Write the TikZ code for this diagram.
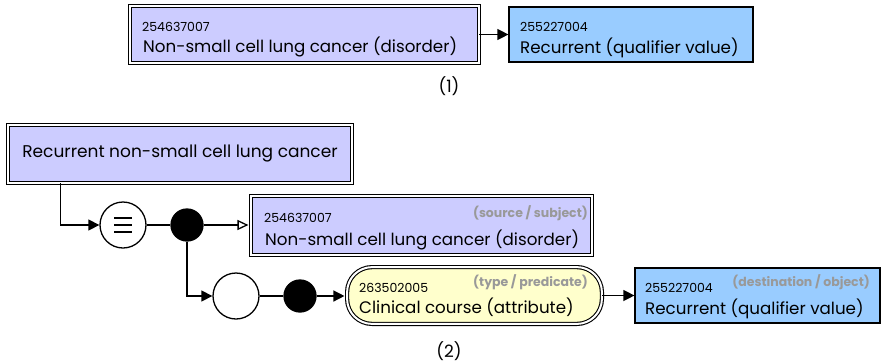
\documentclass[tikz,border=0pt]{standalone}
\usepackage{fontspec}
\setmainfont{Poppins}
\usetikzlibrary{arrows.meta}
\definecolor{concept}{HTML}{CCCCFF}
\definecolor{valuebox}{HTML}{99CCFF}
\definecolor{attrbox}{HTML}{FFFFCC}
\definecolor{rolegray}{HTML}{999999}
\tikzset{
  conn/.style={line width=1.3pt},
  solid arrow/.style={conn,-{Triangle[length=11pt,width=11pt]}},
  open arrow/.style={conn,-{Triangle[open,length=11pt,width=10pt,fill=white]}},
  dblbox/.style={draw, line width=1.1pt, double=white, double distance=2pt,
    rectangle, inner sep=0pt},
  plainbox/.style={draw, line width=1.2pt, rectangle, inner sep=0pt},
  conceptbox/.style={dblbox, fill=concept},
  valbox/.style={plainbox, fill=valuebox},
  attrnode/.style={dblbox, fill=attrbox, rounded corners=25pt},
  opencirc/.style={circle, draw, line width=1.3pt, fill=white, minimum size=46pt, inner sep=0pt},
  dotcirc/.style={circle, draw, line width=1.3pt, fill=black, minimum size=32pt, inner sep=0pt},
  code/.style={anchor=base west, inner sep=0pt, font=\fontsize{12.5}{14}\selectfont},
  term/.style={anchor=base west, inner sep=0pt, font=\fontsize{16.7}{20}\selectfont},
  role/.style={anchor=base east, inner sep=0pt, text=rolegray, font=\bfseries\fontsize{12.5}{14}\selectfont},
  caption/.style={inner sep=0pt, font=\fontsize{17}{20}\selectfont},
}
\begin{document}
\begin{tikzpicture}[x=1pt,y=-1pt]
\useasboundingbox (0,0) rectangle (883,362);

% ---------- (1) ----------
\node[conceptbox, minimum width=348.8pt, minimum height=56.8pt] (nsc1) at (304.5,34.5) {};
\node[code] (nsc1code) at (142,31) {254637007};
\node[term] (nsc1term) at (143,52.3) {Non-small cell lung cancer (disorder)};

\node[valbox, minimum width=244pt, minimum height=55pt] (rec1) at (631,34.5) {};
\node[code] (rec1code) at (520,31) {255227004};
\node[term] (rec1term) at (520,53) {Recurrent (qualifier value)};

\draw[solid arrow] (nsc1.east) -- (rec1.west);
\node[caption] (cap1) at (449,86) {(1)};

% ---------- (2) ----------
\node[conceptbox, minimum width=343.8pt, minimum height=57.8pt,
      font=\fontsize{17}{20}\selectfont] (rnsc) at (180,154) {Recurrent non-small cell lung cancer};

\node[opencirc] (eq) at (123,225) {};
\draw[line width=1.3pt] (114,218) -- (132,218) (114,225) -- (132,225) (114,232) -- (132,232);
\node[dotcirc] (dot1) at (187,225) {};

\node[conceptbox, minimum width=340.8pt, minimum height=58.8pt] (nsc2) at (421.5,225.5) {};
\node[code] (nsc2code) at (264,222) {254637007};
\node[role] (nsc2role) at (588,217) {(source / subject)};
\node[term] (nsc2term) at (265,245) {Non-small cell lung cancer (disorder)};

\node[opencirc] (grp) at (236,296) {};
\node[dotcirc] (dot2) at (300,296) {};

\node[attrnode, minimum width=254.8pt, minimum height=56.8pt] (attr) at (474.5,295.5) {};
\node[code] (attrcode) at (359,292) {263502005};
\node[role] (attrrole) at (588,286) {(type / predicate)};
\node[term] (attrterm) at (359,313) {Clinical course (attribute)};

\node[valbox, minimum width=245pt, minimum height=55pt] (rec2) at (757.5,295.5) {};
\node[code] (rec2code) at (645,292) {255227004};
\node[role] (rec2role) at (870,286) {(destination / object)};
\node[term] (rec2term) at (645,314) {Recurrent (qualifier value)};

\coordinate (drop) at (60.5,0);
\draw[solid arrow] (rnsc.south -| drop) |- (eq.west);
\draw[conn] (eq) -- (dot1);
\draw[open arrow, shorten >=2.1pt] (dot1) -- (dot1 -| nsc2.west);
\draw[solid arrow] (dot1) |- (grp.west);
\draw[conn] (grp) -- (dot2);
\draw[solid arrow, shorten >=2.1pt] (dot2) -- (dot2 -| attr.west);
\draw[solid arrow] (attr.east |- rec2.west) -- (rec2.west);

\node[caption] (cap2) at (449,351) {(2)};
\end{tikzpicture}
\end{document}
